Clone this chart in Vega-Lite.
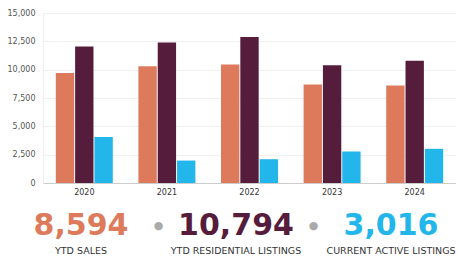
{
  "$schema": "https://vega.github.io/schema/vega-lite/v6.json",
  "background": "white",
  "padding": {"left": 7, "top": 9, "right": 0, "bottom": 0},
  "spacing": 10,
  "config": {"view": {"stroke": null}, "font": "DejaVu Sans"},
  "vconcat": [
    {
      "width": 413,
      "height": 170,
      "data": {
        "values": [
          {"year": "2020", "series": "YTD Sales", "value": 9700},
          {"year": "2020", "series": "YTD Residential Listings", "value": 12050},
          {"year": "2020", "series": "Current Active Listings", "value": 4060},
          {"year": "2021", "series": "YTD Sales", "value": 10300},
          {"year": "2021", "series": "YTD Residential Listings", "value": 12400},
          {"year": "2021", "series": "Current Active Listings", "value": 1980},
          {"year": "2022", "series": "YTD Sales", "value": 10450},
          {"year": "2022", "series": "YTD Residential Listings", "value": 12880},
          {"year": "2022", "series": "Current Active Listings", "value": 2100},
          {"year": "2023", "series": "YTD Sales", "value": 8700},
          {"year": "2023", "series": "YTD Residential Listings", "value": 10400},
          {"year": "2023", "series": "Current Active Listings", "value": 2780},
          {"year": "2024", "series": "YTD Sales", "value": 8594},
          {"year": "2024", "series": "YTD Residential Listings", "value": 10794},
          {"year": "2024", "series": "Current Active Listings", "value": 3016}
        ]
      },
      "mark": {"type": "bar"},
      "encoding": {
        "x": {
          "field": "year", "type": "nominal",
          "scale": {"paddingInner": 0.31, "paddingOuter": 0.155},
          "axis": {"title": null, "labelAngle": 0, "ticks": false, "labelPadding": 5, "labelFontSize": 8, "labelColor": "#333", "domainColor": "#cccccc", "grid": false}
        },
        "xOffset": {
          "field": "series", "type": "nominal",
          "sort": ["YTD Sales", "YTD Residential Listings", "Current Active Listings"],
          "scale": {"paddingInner": 0.05}
        },
        "y": {
          "field": "value", "type": "quantitative",
          "scale": {"domain": [0, 15000]},
          "axis": {"title": null, "values": [0, 2500, 5000, 7500, 10000, 12500, 15000], "format": ",d", "ticks": false, "labelPadding": 8, "labelFontSize": 8, "labelColor": "#555", "gridColor": "#f0f0f0", "domainColor": "#eeeeee"}
        },
        "color": {
          "field": "series", "type": "nominal",
          "scale": {"domain": ["YTD Sales", "YTD Residential Listings", "Current Active Listings"], "range": ["#DE7A5C", "#561C3C", "#22B6EA"]},
          "legend": null
        }
      }
    },
    {
      "width": 386,
      "height": 54,
      "data": {
        "values": [
          {"key": "1", "kind": "stat", "value": "8,594", "label": "YTD SALES"},
          {"key": "2", "kind": "dot"},
          {"key": "3", "kind": "stat", "value": "10,794", "label": "YTD RESIDENTIAL LISTINGS"},
          {"key": "4", "kind": "dot"},
          {"key": "5", "kind": "stat", "value": "3,016", "label": "CURRENT ACTIVE LISTINGS"}
        ]
      },
      "encoding": {
        "x": {"field": "key", "type": "nominal", "scale": {"type": "point", "padding": 0.49}, "axis": null}
      },
      "layer": [
        {
          "transform": [{"filter": "datum.kind === 'stat'"}],
          "mark": {"type": "text", "fontSize": 30, "fontWeight": "bold", "baseline": "middle", "dy": -7.5},
          "encoding": {
            "text": {"field": "value"},
            "color": {"field": "key", "type": "nominal", "scale": {"domain": ["1", "3", "5"], "range": ["#DE7A5C", "#561C3C", "#4CB4E6"]}, "legend": null}
          }
        },
        {
          "transform": [{"filter": "datum.kind === 'stat'"}],
          "mark": {"type": "text", "fontSize": 9.5, "color": "#333", "baseline": "middle", "dy": 18},
          "encoding": {"text": {"field": "label"}}
        },
        {
          "transform": [{"filter": "datum.kind === 'dot'"}],
          "mark": {"type": "text", "text": "●", "fontSize": 11, "color": "#aaaaaa", "baseline": "middle", "dy": -7.5}
        }
      ]
    }
  ]
}
